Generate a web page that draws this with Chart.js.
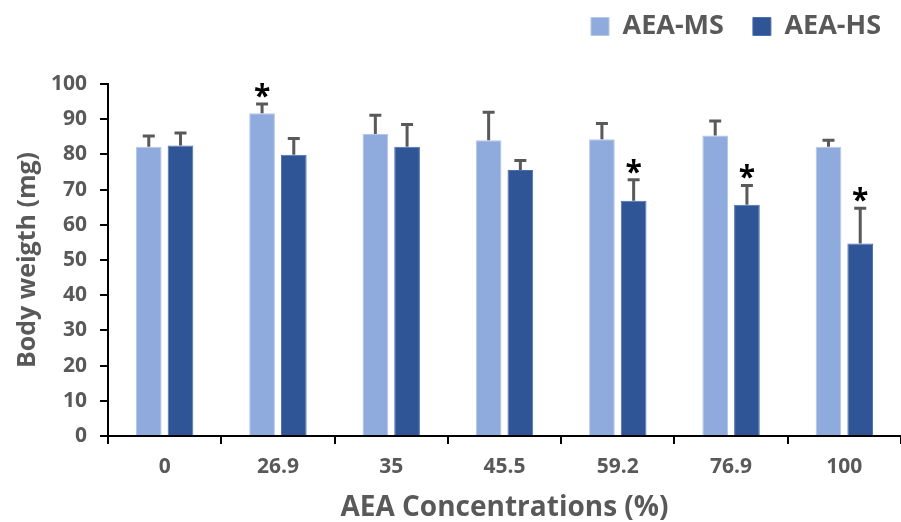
<!DOCTYPE html>
<html>
<head>
<meta charset="utf-8">
<script src="https://cdn.jsdelivr.net/npm/chart.js@4.4.1/dist/chart.umd.min.js"></script>
<style>
  html, body { margin: 0; padding: 0; background: #fff; }
  #wrap { width: 901px; height: 522px; }
</style>
</head>
<body>
<div id="wrap"><canvas id="bwChart" width="901" height="522"></canvas></div>
<script>
/* ---------- DATA ---------- */
const concentrations = ["0", "26.9", "35", "45.5", "59.2", "76.9", "100"];
const msMeans = [82.2, 91.7, 85.8, 84.0, 84.3, 85.4, 82.2];
const msErr   = [3.0, 2.6, 5.3, 8.0, 4.5, 4.1, 1.8];
const hsMeans = [82.5, 79.9, 82.2, 75.6, 66.8, 65.7, 54.7];
const hsErr   = [3.6, 4.6, 6.3, 2.7, 6.0, 5.5, 10.0];
const msSig = [false, true, false, false, false, false, false];
const hsSig = [false, false, false, false, true, true, true];

const GREY = "#595959";
const FONT = "'Open Sans', sans-serif";

/* ---------- ERROR BARS + ASTERISKS ---------- */
const errorBarPlugin = {
  id: "errorBars",
  afterDatasetsDraw(chart) {
    const ctx = chart.ctx;
    const y = chart.scales.y;
    const errs = [msErr, hsErr];
    const sigs = [msSig, hsSig];
    chart.data.datasets.forEach((ds, di) => {
      const meta = chart.getDatasetMeta(di);
      meta.data.forEach((bar, i) => {
        const top = y.getPixelForValue(ds.data[i] + errs[di][i]);
        ctx.save();
        ctx.strokeStyle = GREY;
        ctx.lineWidth = 3;
        ctx.beginPath();
        ctx.moveTo(bar.x, bar.y);
        ctx.lineTo(bar.x, top);
        ctx.moveTo(bar.x - 6, top);
        ctx.lineTo(bar.x + 6, top);
        ctx.stroke();
        if (sigs[di][i]) {
          ctx.fillStyle = "#000";
          ctx.font = "bold 30px " + FONT;
          ctx.textAlign = "center";
          ctx.textBaseline = "alphabetic";
          ctx.fillText("*", bar.x, top + 2);
        }
        ctx.restore();
      });
    });
  }
};

// fixed legend block height so the plot top lands where the original has it,
// and nudge the legend a bit to the right
const legendSpacer = {
  id: "legendSpacer",
  beforeInit(chart) {
    const lg = chart.legend;
    const fit = lg.fit;
    lg.fit = function () {
      fit.bind(lg)();
      this.height = 100;
    };
    const draw = lg.draw;
    lg.draw = function () {
      const ctx = chart.ctx;
      ctx.save();
      ctx.translate(9, 0);
      draw.bind(lg)();
      ctx.restore();
    };
  }
};

try {
  new Chart(document.getElementById("bwChart"), {
    type: "bar",
    data: {
      labels: concentrations,
      datasets: [
        {
          label: "AEA-MS",
          data: msMeans,
          backgroundColor: "#8FAADC",
          borderColor: "#B4C7E7",
          borderWidth: 1,
          categoryPercentage: 0.56,
          barPercentage: 0.81
        },
        {
          label: "AEA-HS",
          data: hsMeans,
          backgroundColor: "#2F5597",
          borderColor: "#4A6FAE",
          borderWidth: 1,
          categoryPercentage: 0.56,
          barPercentage: 0.81
        }
      ]
    },
    options: {
      responsive: false,
      animation: false,
      layout: { padding: { top: -16, right: 0, left: 0, bottom: 0 } },
      plugins: {
        legend: {
          position: "top",
          align: "end",
          labels: {
            boxWidth: 18,
            boxHeight: 18,
            padding: 29,
            color: GREY,
            font: { family: FONT, size: 27, weight: "bold" }
          }
        },
        tooltip: { enabled: false }
      },
      scales: {
        x: {
          afterFit(s) { s.height = 86; },
          border: { color: "#000", width: 2 },
          grid: { display: true, drawOnChartArea: false, color: "#000", lineWidth: 2, tickLength: 8, offset: true },
          ticks: { color: GREY, padding: 10, font: { family: FONT, size: 21, weight: "bold" } },
          title: {
            display: true,
            text: "AEA Concentrations (%)",
            color: GREY,
            padding: { top: 0, bottom: 0 },
            font: { family: FONT, size: 28, weight: "bold", lineHeight: 1 }
          }
        },
        y: {
          min: 0,
          max: 100,
          afterFit(s) { s.width = 108; },
          border: { color: "#000", width: 2 },
          grid: { display: true, drawOnChartArea: false, color: "#000", lineWidth: 2, tickLength: 8 },
          ticks: { stepSize: 10, color: GREY, padding: 13, font: { family: FONT, size: 21, weight: "bold" } },
          title: {
            display: true,
            text: "Body weigth (mg)",
            color: GREY,
            padding: { top: 13, bottom: 0 },
            font: { family: FONT, size: 25, weight: "bold" }
          }
        }
      }
    },
    plugins: [legendSpacer, errorBarPlugin]
  });
} catch (e) {
  console.error("Error initializing body weight chart:", e);
}
</script>
</body>
</html>
